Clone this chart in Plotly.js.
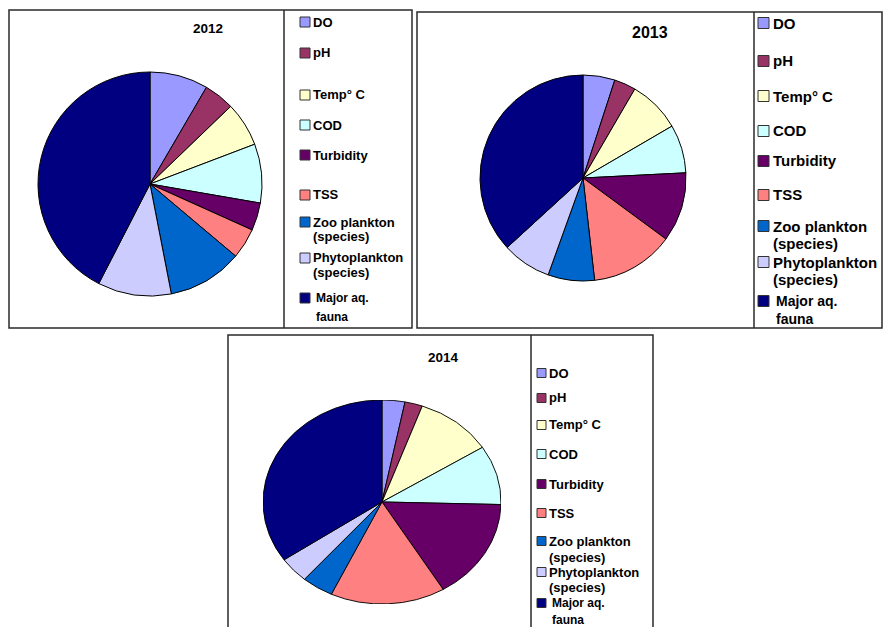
<!DOCTYPE html>
<html>
<head>
<meta charset="utf-8">
<script src="https://cdn.plot.ly/plotly-3.0.1.min.js"></script>
<style>
html,body{margin:0;padding:0;background:#fff;overflow:hidden;}
#main{position:absolute;left:0;top:0;width:883px;height:627px;}
#pie2014{position:absolute;left:263px;top:400px;width:238px;height:238px;transform:scaleY(0.857);transform-origin:0 0;}
</style>
</head>
<body>
<div id="main"></div>
<div id="pie2014"></div>
<script>
// ---- data ----
const categories = ['DO','pH','Temp° C','COD','Turbidity','TSS','Zoo plankton (species)','Phytoplankton (species)','Major aq. fauna'];
const legendLines = [['DO'],['pH'],['Temp° C'],['COD'],['Turbidity'],['TSS'],['Zoo plankton','(species)'],['Phytoplankton','(species)'],['Major aq.','fauna']];
const years = ['2012','2013','2014'];
const values2012 = [8.4, 4.4, 6.4, 8.5, 4.0, 4.4, 10.8, 10.6, 42.4];
const values2013 = [5.0, 3.4, 8.2, 7.6, 10.9, 13.1, 7.3, 7.7, 36.8];
const values2014 = [3.1, 2.4, 10.5, 9.4, 16.0, 15.6, 4.3, 4.1, 34.6];
const colors = ['#9999FF','#993366','#FFFFCC','#CCFFFF','#660066','#FF8080','#0066CC','#CCCCFF','#000080'];

// ---- layout helpers (pixel -> paper) ----
const W = 883, H = 627;
const px = x => x / W;
const py = y => 1 - y / H;
const FONT = 'Arial, "Liberation Sans", sans-serif';

const panels = [
  {box:[9,10,412,328], div:284, title:[208,28,13.5], pie:[150,184,112],
   mark:[300,10], textX:312, fs:13,
   rows:[[22],[53],[95],[125],[155],[195],[222,237],[258,273],[298,317]]},
  {box:[417,12,882,328], div:754, title:[650,33,16], pie:[583,178,103],
   mark:[758,11], textX:772, fs:15,
   rows:[[23],[61],[96],[131],[161],[195],[226,243],[262,279],[301,319]]},
  {box:[228,335,653,640], div:531, title:[443,357,13.5], pie:null,
   mark:[537,9], textX:548, fs:13,
   rows:[[373],[398],[425],[454],[484],[513],[541,557],[572,587],[603,620]]}
];
const allValues = [values2012, values2013, values2014];

const shapes = [], annotations = [], traces = [];
panels.forEach((p, k) => {
  const [x0,y0,x1,y1] = p.box;
  shapes.push({type:'rect', xref:'paper', yref:'paper', x0:px(x0), x1:px(x1), y0:py(y1), y1:py(y0),
    line:{color:'#2a2a2a', width:1.5}, fillcolor:'rgba(0,0,0,0)'});
  shapes.push({type:'line', xref:'paper', yref:'paper', x0:px(p.div), x1:px(p.div), y0:py(y1), y1:py(y0),
    line:{color:'#2a2a2a', width:1.5}});
  annotations.push({xref:'paper', yref:'paper', x:px(p.title[0]), y:py(p.title[1]), xanchor:'center', yanchor:'middle',
    text:'<b>'+years[k]+'</b>', showarrow:false, font:{family:FONT, size:p.title[2], color:'#000'}});
  legendLines.forEach((lines, i) => {
    const yc = p.rows[i][0];
    const m = p.mark[1];
    shapes.push({type:'rect', xref:'paper', yref:'paper', x0:px(p.mark[0]), x1:px(p.mark[0]+m),
      y0:py(yc+m/2), y1:py(yc-m/2), fillcolor:colors[i], line:{color:'#333', width:1}});
    lines.forEach((t, j) => {
      annotations.push({xref:'paper', yref:'paper', x:px(p.textX + (i===8?3:0)), y:py(p.rows[i][j]),
        xanchor:'left', yanchor:'middle', text:'<b>'+t+'</b>', showarrow:false, borderpad:0,
        font:{family:FONT, size:(i===8?p.fs-1:p.fs), color:'#000'}});
    });
  });
  if (p.pie) {
    const [cx,cy,r] = p.pie;
    traces.push({type:'pie', labels:categories, values:allValues[k], sort:false, direction:'clockwise', rotation:0,
      marker:{colors:colors, line:{color:'#000', width:1}}, textinfo:'none', hoverinfo:'label+value',
      domain:{x:[px(cx-r), px(cx+r)], y:[py(cy+r), py(cy-r)]}, showlegend:false});
  }
});

Plotly.newPlot('main', traces, {
  width:W, height:H, margin:{l:0,r:0,t:0,b:0}, paper_bgcolor:'#fff', plot_bgcolor:'#fff',
  showlegend:false, shapes:shapes, annotations:annotations
}, {staticPlot:true});

Plotly.newPlot('pie2014', [{type:'pie', labels:categories, values:values2014, sort:false, direction:'clockwise', rotation:0,
  marker:{colors:colors, line:{color:'#000', width:1}}, textinfo:'none', showlegend:false,
  domain:{x:[0,1], y:[0,1]}}], {
  width:238, height:238, margin:{l:0,r:0,t:0,b:0}, paper_bgcolor:'rgba(0,0,0,0)', plot_bgcolor:'rgba(0,0,0,0)', showlegend:false
}, {staticPlot:true});
</script>
</body>
</html>
